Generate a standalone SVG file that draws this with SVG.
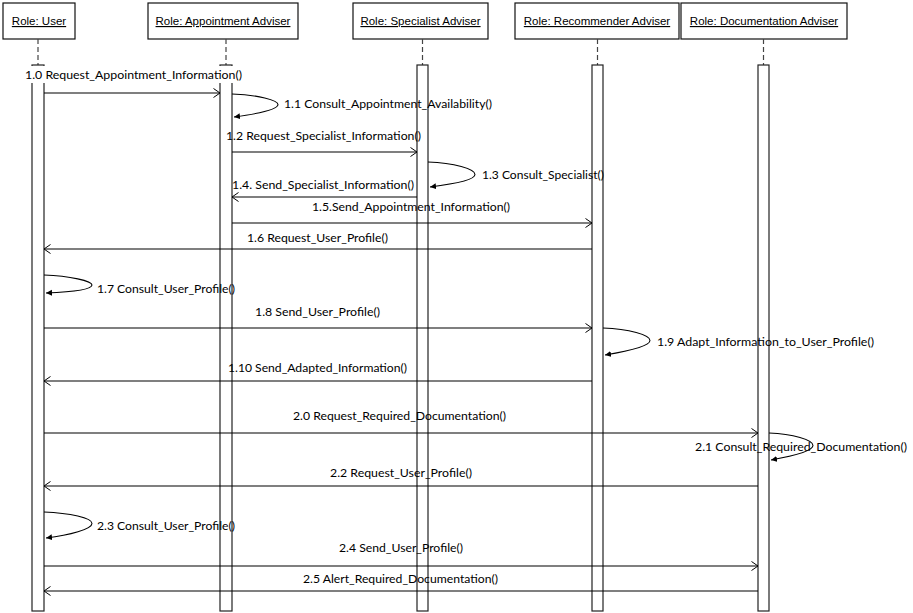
<svg xmlns="http://www.w3.org/2000/svg" width="913" height="613" viewBox="0 0 913 613">
  <style>
    .head { fill: #fff; stroke: #111; stroke-width: 1.2; }
    .head-label { font-family: "Liberation Sans", Arial, sans-serif; font-size: 11.5px; text-anchor: middle; text-decoration: underline; fill: #000; }
    .life { stroke: #444; stroke-width: 1.2; stroke-dasharray: 5 3; fill: none; }
    .bar { fill: #fff; stroke: #222; stroke-width: 1.2; }
    .msg { stroke: #000; stroke-width: 1.1; fill: none; }
    .call { marker-end: url(#open); }
    .self { stroke: #000; stroke-width: 1.1; fill: none; marker-end: url(#solid); }
    .lbl { font-family: Lato, "Liberation Sans", sans-serif; font-size: 12px; fill: #000; }
  </style>
  <defs>
    <marker id="open" markerUnits="userSpaceOnUse" markerWidth="10" markerHeight="12" refX="7" refY="5" orient="auto">
      <path d="M0.5,0.5 L7,5 L0.5,9.5" fill="none" stroke="#000" stroke-width="1"/>
    </marker>
    <marker id="solid" markerUnits="userSpaceOnUse" markerWidth="8" markerHeight="8" refX="6" refY="3" orient="auto">
      <path d="M0,0 L6,3 L0,6 Z" fill="#000"/>
    </marker>
  </defs>
  <rect x="0" y="0" width="913" height="613" fill="#fff"/>

  <!-- lifelines with activation bars -->
  <g id="user">
    <rect class="head" x="3" y="3" width="72" height="36"/>
    <text class="head-label" x="39" y="25">Role: User</text>
    <line class="life" x1="38" y1="39" x2="38" y2="65"/>
    <rect class="bar" x="32" y="65" width="12" height="546"/>
  </g>
  <g id="appointment-adviser">
    <rect class="head" x="148" y="3" width="150" height="36"/>
    <text class="head-label" x="223" y="25">Role: Appointment Adviser</text>
    <line class="life" x1="226" y1="39" x2="226" y2="65"/>
    <rect class="bar" x="220" y="65" width="12" height="546"/>
  </g>
  <g id="specialist-adviser">
    <rect class="head" x="353" y="3" width="135" height="36"/>
    <text class="head-label" x="420.5" y="25">Role: Specialist Adviser</text>
    <line class="life" x1="422.5" y1="39" x2="422.5" y2="65"/>
    <rect class="bar" x="417" y="65" width="11" height="546"/>
  </g>
  <g id="recommender-adviser">
    <rect class="head" x="515" y="3" width="164" height="36"/>
    <text class="head-label" x="597" y="25">Role: Recommender Adviser</text>
    <line class="life" x1="597.5" y1="39" x2="597.5" y2="65"/>
    <rect class="bar" x="592" y="65" width="11" height="546"/>
  </g>
  <g id="documentation-adviser">
    <rect class="head" x="681" y="3" width="166" height="36"/>
    <text class="head-label" x="764" y="25">Role: Documentation Adviser</text>
    <line class="life" x1="763.5" y1="39" x2="763.5" y2="65"/>
    <rect class="bar" x="758" y="65" width="11" height="546"/>
  </g>

  <!-- messages -->
  <g id="connectors">
    <rect x="22" y="66" width="223" height="17" fill="#fff"/>
    <text class="lbl" x="25" y="78.5" textLength="217" lengthAdjust="spacingAndGlyphs">1.0 Request_Appointment_Information()</text>
    <line class="msg call" x1="44" y1="93" x2="220" y2="93"/>

    <path class="self" d="M232,94 C258,95 278,100 278,104.5 C278,110 256,114 234,117"/>
    <text class="lbl" x="284" y="108" textLength="208" lengthAdjust="spacingAndGlyphs">1.1 Consult_Appointment_Availability()</text>

    <text class="lbl" x="226" y="140" textLength="195" lengthAdjust="spacingAndGlyphs">1.2 Request_Specialist_Information()</text>
    <line class="msg call" x1="232" y1="152" x2="417" y2="152"/>

    <path class="self" d="M428,162 C454,163 475,169 475,174.5 C475,180 454,184 430,187"/>
    <text class="lbl" x="482" y="179" textLength="122" lengthAdjust="spacingAndGlyphs">1.3 Consult_Specialist()</text>

    <text class="lbl" x="232" y="189" textLength="182" lengthAdjust="spacingAndGlyphs">1.4. Send_Specialist_Information()</text>
    <line class="msg call" x1="417" y1="197" x2="232" y2="197"/>

    <text class="lbl" x="312" y="211" textLength="198" lengthAdjust="spacingAndGlyphs">1.5.Send_Appointment_Information()</text>
    <line class="msg call" x1="232" y1="223" x2="592" y2="223"/>

    <text class="lbl" x="247" y="242" textLength="141" lengthAdjust="spacingAndGlyphs">1.6 Request_User_Profile()</text>
    <line class="msg call" x1="592" y1="249" x2="44" y2="249"/>

    <path class="self" d="M44,275 C70,276 92,281 92,285 C92,290 70,292 46,293"/>
    <text class="lbl" x="97" y="293" textLength="138" lengthAdjust="spacingAndGlyphs">1.7 Consult_User_Profile()</text>

    <text class="lbl" x="255" y="316" textLength="125" lengthAdjust="spacingAndGlyphs">1.8 Send_User_Profile()</text>
    <line class="msg call" x1="44" y1="328" x2="592" y2="328"/>

    <path class="self" d="M603,328 C629,329 650,335 650,340.5 C650,346 629,351 605,355"/>
    <text class="lbl" x="657" y="346" textLength="217" lengthAdjust="spacingAndGlyphs">1.9 Adapt_Information_to_User_Profile()</text>

    <text class="lbl" x="228" y="372" textLength="179" lengthAdjust="spacingAndGlyphs">1.10 Send_Adapted_Information()</text>
    <line class="msg call" x1="592" y1="381" x2="44" y2="381"/>

    <text class="lbl" x="293" y="420" textLength="213" lengthAdjust="spacingAndGlyphs">2.0 Request_Required_Documentation()</text>
    <line class="msg call" x1="44" y1="433" x2="758" y2="433"/>

    <text class="lbl" x="695" y="451" textLength="212" lengthAdjust="spacingAndGlyphs">2.1 Consult_Required_Documentation()</text>
    <path class="self" d="M769,433 C793,434 813,440 813,445.5 C813,451 793,456 771,460"/>

    <text class="lbl" x="330" y="477" textLength="142" lengthAdjust="spacingAndGlyphs">2.2 Request_User_Profile()</text>
    <line class="msg call" x1="758" y1="486" x2="44" y2="486"/>

    <path class="self" d="M44,512 C70,513 92,518 92,523.5 C92,529 70,535 46,538"/>
    <text class="lbl" x="97" y="530" textLength="138" lengthAdjust="spacingAndGlyphs">2.3 Consult_User_Profile()</text>

    <text class="lbl" x="339" y="552" textLength="124" lengthAdjust="spacingAndGlyphs">2.4 Send_User_Profile()</text>
    <line class="msg call" x1="44" y1="566" x2="758" y2="566"/>

    <text class="lbl" x="303" y="583" textLength="195" lengthAdjust="spacingAndGlyphs">2.5 Alert_Required_Documentation()</text>
    <line class="msg call" x1="758" y1="591" x2="44" y2="591"/>
  </g>
</svg>
